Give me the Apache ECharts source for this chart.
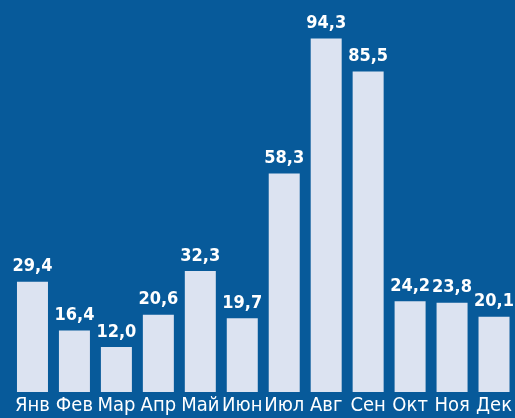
<!DOCTYPE html>
<html><head><meta charset="utf-8">
<script src="https://cdn.jsdelivr.net/npm/echarts@6/dist/echarts.min.js"></script>
<style>html,body{margin:0;padding:0;background:#075a9a;}#c{width:515px;height:418px;}</style>
</head><body><div id="c"></div>
<script>
const months = ['Янв','Фев','Мар','Апр','Май','Июн','Июл','Авг','Сен','Окт','Ноя','Дек'];
const values = [29.4,16.4,12.0,20.6,32.3,19.7,58.3,94.3,85.5,24.2,23.8,20.1];
const chart = echarts.init(document.getElementById('c'));
chart.setOption({
  backgroundColor:'#075a9a',
  animation:false,
  grid:{left:11.5,right:-1.5,top:17,bottom:26,containLabel:false},
  xAxis:{type:'category',data:months,axisLine:{show:false},axisTick:{show:false},
    axisLabel:{color:'#ffffff',fontFamily:'Liberation Sans Narrow, DejaVu Sans Condensed',fontSize:20,margin:4,verticalAlign:'top',interval:0}},
  yAxis:{type:'value',min:0,max:100,show:false,splitLine:{show:false}},
  series:[{type:'bar',data:values,barWidth:31,itemStyle:{color:'#dce3f1'},
    label:{show:true,position:'top',distance:6,color:'#ffffff',fontWeight:'bold',
      fontFamily:'DejaVu Sans Condensed',fontSize:18,
      formatter:p=>p.value.toFixed(1).replace('.',',')}}]
});
</script></body></html>
